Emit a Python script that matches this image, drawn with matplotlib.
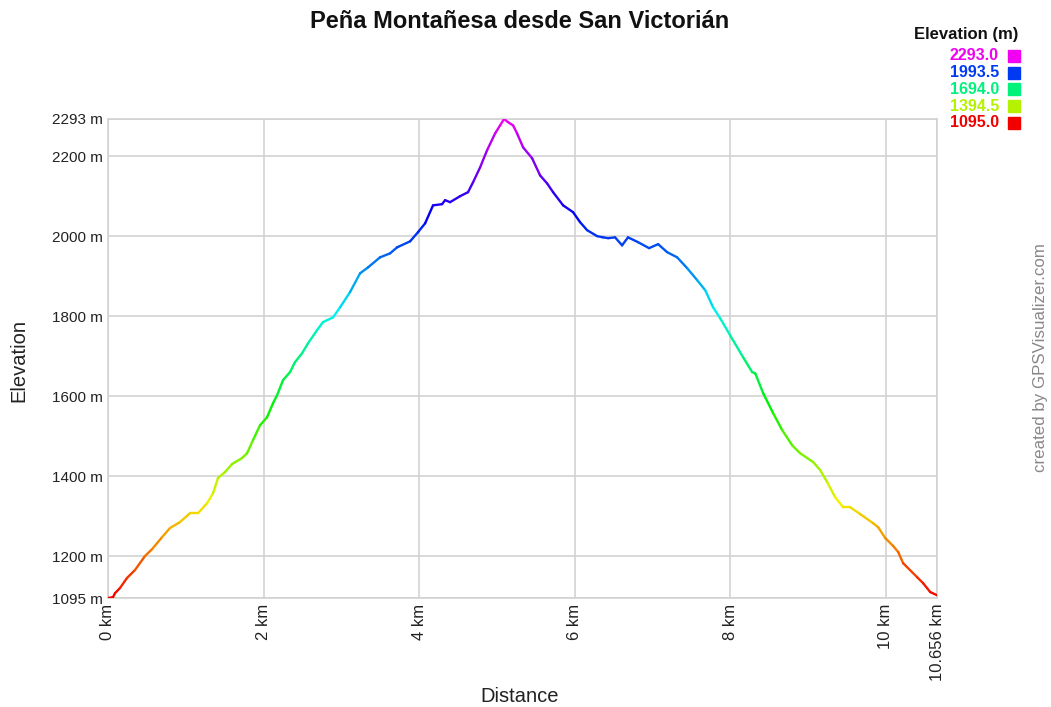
import numpy as np
import matplotlib
matplotlib.use('Agg')
import matplotlib.pyplot as plt
from matplotlib.collections import LineCollection
from matplotlib.colors import ListedColormap, Normalize, hsv_to_rgb

plt.rcParams['font.family'] = ['Liberation Sans', 'DejaVu Sans']

title = 'Peña Montañesa desde San Victorián'

# distance (km) and elevation (m)
dist_km = [0.000, 0.064, 0.090, 0.154, 0.244, 0.347, 0.476, 0.566, 0.694, 0.797,
           0.926, 1.054, 1.157, 1.273, 1.350, 1.414, 1.504, 1.594, 1.723, 1.787,
           1.864, 1.954, 2.044, 2.121, 2.173, 2.250, 2.340, 2.404, 2.494, 2.571,
           2.687, 2.764, 2.893, 2.983, 3.111, 3.240, 3.343, 3.497, 3.626, 3.716,
           3.883, 3.985, 4.076, 4.178, 4.294, 4.333, 4.397, 4.526, 4.628, 4.693,
           4.783, 4.873, 4.976, 5.040, 5.091, 5.143, 5.207, 5.258, 5.336, 5.451,
           5.554, 5.644, 5.721, 5.850, 5.978, 6.068, 6.158, 6.287, 6.364, 6.428,
           6.518, 6.608, 6.684, 6.813, 6.955, 7.071, 7.187, 7.316, 7.444, 7.573,
           7.676, 7.778, 7.868, 7.997, 8.164, 8.280, 8.319, 8.422, 8.550, 8.666,
           8.794, 8.897, 9.064, 9.154, 9.244, 9.347, 9.450, 9.540, 9.668, 9.835,
           9.900, 9.990, 10.093, 10.157, 10.221, 10.401, 10.478, 10.568, 10.656]
elev_m = [1095, 1097, 1107, 1120, 1145, 1165, 1200, 1217, 1247, 1270,
          1285, 1307, 1307, 1332, 1357, 1395, 1410, 1430, 1445, 1457,
          1490, 1527, 1547, 1582, 1602, 1640, 1660, 1685, 1707, 1732,
          1765, 1785, 1797, 1822, 1860, 1907, 1922, 1947, 1957, 1972,
          1987, 2010, 2032, 2077, 2080, 2090, 2085, 2100, 2110, 2135,
          2172, 2215, 2257, 2277, 2293, 2285, 2277, 2257, 2222, 2195,
          2152, 2132, 2110, 2077, 2060, 2035, 2015, 2000, 1997, 1995,
          1997, 1977, 1997, 1985, 1970, 1980, 1960, 1947, 1920, 1890,
          1865, 1822, 1795, 1752, 1697, 1660, 1657, 1607, 1557, 1515,
          1477, 1457, 1435, 1415, 1385, 1347, 1322, 1322, 1305, 1282,
          1272, 1245, 1225, 1210, 1182, 1147, 1132, 1110, 1102]

x_ticks = [0, 2, 4, 6, 8, 10, 10.656]
x_labels = ['0 km', '2 km', '4 km', '6 km', '8 km', '10 km', '10.656 km']
y_ticks = [1095, 1200, 1400, 1600, 1800, 2000, 2200, 2293]
y_labels = ['1095 m', '1200 m', '1400 m', '1600 m', '1800 m', '2000 m', '2200 m', '2293 m']
legend_vals = [2293.0, 1993.5, 1694.0, 1394.5, 1095.0]

# red -> yellow -> green -> cyan -> blue -> magenta
hues = np.linspace(0, 300 / 360, 256)
cmap = ListedColormap(hsv_to_rgb(np.column_stack([hues, np.ones(256), np.full(256, 0.95)])))
norm = Normalize(1095, 2293)

fig = plt.figure(figsize=(10.51, 7.07), dpi=100)
ax = fig.add_axes([108 / 1051, 109 / 707, 829 / 1051, 479 / 707])

x = np.array(dist_km)
y = np.array(elev_m)
pts = np.column_stack([x, y]).reshape(-1, 1, 2)
segs = np.concatenate([pts[:-1], pts[1:]], axis=1)
lc = LineCollection(segs, cmap=cmap, norm=norm, linewidth=1.7, capstyle='round', joinstyle='round', zorder=3)
lc.set_array((y[:-1] + y[1:]) / 2)
ax.add_collection(lc)

ax.set_xlim(0, 10.656)
ax.set_ylim(1095, 2293)
ax.set_xticks(x_ticks)
ax.set_xticklabels(x_labels, rotation=90, fontsize=12, color='#222222')
ax.set_yticks(y_ticks)
ax.set_yticklabels(y_labels, fontsize=11, color='#222222')
ax.tick_params(length=0, pad=4)
ax.grid(True, color='#d0d0d0', linewidth=1.1)
ax.set_axisbelow(True)
for s in ax.spines.values():
    s.set_color('#d0d0d0')
    s.set_linewidth(1.1)

fig.text(520 / 1051, 1 - 28.5 / 707, title, ha='center', va='baseline', fontsize=17, fontweight='bold', color='#111111')
fig.text(19 / 1051, 1 - 360 / 707, 'Elevation', ha='center', va='center', rotation=90, fontsize=14.5, color='#222222')
fig.text(520 / 1051, 1 - 696 / 707, 'Distance', ha='center', va='center', fontsize=14.5, color='#222222')
fig.text(1041 / 1051, 1 - 358 / 707, 'created by GPSVisualizer.com', ha='center', va='center',
         rotation=90, fontsize=12.2, color='#888888')

# elevation legend
fig.text(1018 / 1051, 1 - 35 / 707, 'Elevation (m)', ha='right', va='center', fontsize=12, fontweight='bold', color='#111111')
for i, v in enumerate(legend_vals):
    yy = 1 - (56 + i * 16.7) / 707
    c = cmap(norm(v))
    fig.text(999 / 1051, yy, f'{v:.1f}', ha='right', va='center', fontsize=11.5, fontweight='bold', color=c)
    fig.patches.append(plt.Rectangle((1008 / 1051, yy - 6 / 707), 12 / 1051, 12 / 707,
                                     transform=fig.transFigure, color=c, figure=fig))

fig.savefig('out.png', dpi=100)
